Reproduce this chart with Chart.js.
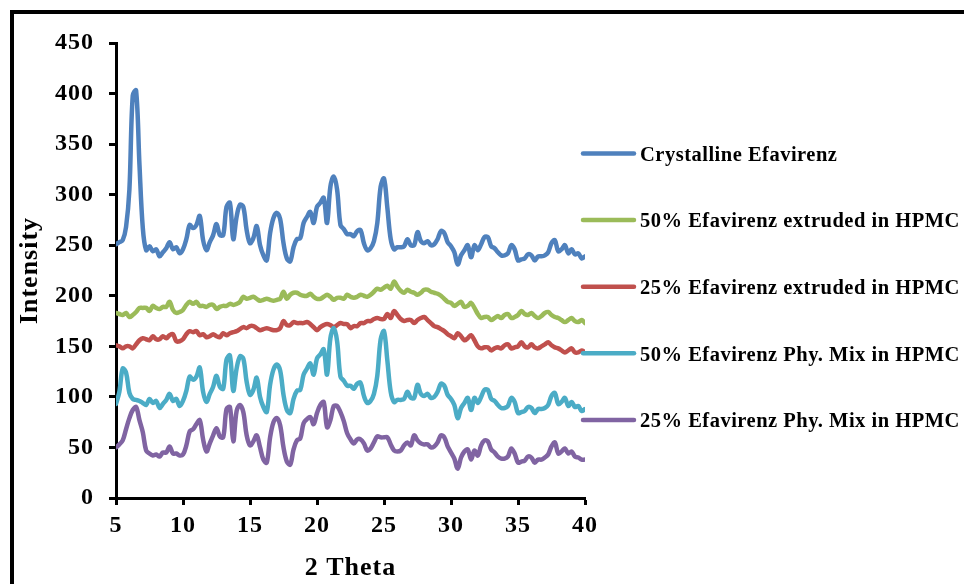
<!DOCTYPE html>
<html><head><meta charset="utf-8">
<script src="https://cdn.jsdelivr.net/npm/chart.js@4/dist/chart.umd.min.js"></script>
<style>html,body{margin:0;padding:0;background:#fff;}#wrap{position:relative;width:964px;height:584px;}</style>
</head><body><div id="wrap"><canvas id="c" width="964" height="584"></canvas></div>
<script>
const theta = [
5,5.25,5.5,5.75,6,6.25,6.5,6.75,7,7.25,7.5,7.75,8,8.25,8.5,8.75,9,9.25,9.5,9.75,
10,10.25,10.5,10.75,11,11.25,11.5,11.75,12,12.25,12.5,12.75,13,13.25,13.5,13.75,14,14.25,14.5,14.75,
15,15.25,15.5,15.75,16,16.25,16.5,16.75,17,17.25,17.5,17.75,18,18.25,18.5,18.75,19,19.25,19.5,19.75,
20,20.25,20.5,20.75,21,21.25,21.5,21.75,22,22.25,22.5,22.75,23,23.25,23.5,23.75,24,24.25,24.5,24.75,
25,25.25,25.5,25.75,26,26.25,26.5,26.75,27,27.25,27.5,27.75,28,28.25,28.5,28.75,29,29.25,29.5,29.75,
30,30.25,30.5,30.75,31,31.25,31.5,31.75,32,32.25,32.5,32.75,33,33.25,33.5,33.75,34,34.25,34.5,34.75,
35,35.25,35.5,35.75,36,36.25,36.5,36.75,37,37.25,37.5,37.75,38,38.25,38.5,38.75,39,39.25,39.5,39.75,
40];

const seriesLabels = [
  "Crystalline Efavirenz",
  "50% Efavirenz extruded in HPMC",
  "25% Efavirenz extruded in HPMC",
  "50% Efavirenz Phy. Mix in HPMC",
  "25% Efavirenz Phy. Mix in HPMC"
];

const crystalline = [
251,253,255,268,305,398,403,330,267,245,249,244,246,239,243,247,253,246,248,242,
246,256,270,267,270,279,255,245,253,260,271,260,260,288,292,256,278,290,288,265,
252,257,269,250,240,235,262,277,282,276,252,237,234,248,256,257,272,278,283,272,
288,292,297,272,308,318,305,270,266,261,261,259,264,265,252,245,247,254,272,308,
316,287,256,246,248,248,249,256,250,250,263,254,252,254,250,251,256,264,262,253,
249,243,231,240,245,250,238,250,245,251,258,258,249,247,243,240,240,242,250,246,
235,236,237,241,240,235,239,239,240,243,252,255,244,246,250,242,246,241,242,237,
239];

const extruded50 = [
183,182,181,183,179,181,184,188,188,188,185,190,188,187,189,189,194,186,183,184,
186,191,194,192,194,190,190,189,191,191,187,189,190,190,192,191,192,194,199,197,
198,199,197,195,196,197,196,195,196,197,204,197,201,203,203,201,200,200,202,199,
197,197,199,201,199,196,198,198,197,201,199,198,199,201,200,199,201,204,207,206,
208,210,207,214,209,205,203,206,204,203,201,203,206,206,204,203,202,200,197,194,
193,190,192,194,189,190,193,188,182,178,179,179,176,178,180,178,181,182,178,179,
181,185,182,181,183,180,178,180,183,184,181,179,178,176,174,176,178,175,174,176,
173];

const extruded25 = [
151,150,148,150,150,148,152,156,158,157,156,160,157,157,160,158,161,162,155,155,
157,162,165,164,165,161,162,159,160,162,160,159,163,161,163,164,165,167,169,168,
170,170,168,166,167,168,167,166,166,168,175,171,171,174,173,173,173,174,172,169,
166,169,171,172,171,169,171,173,172,172,168,170,170,173,173,175,175,177,178,177,
177,182,178,185,181,177,175,176,176,173,176,178,179,176,173,170,169,167,165,162,
160,158,163,160,156,158,161,156,150,148,149,149,146,148,149,148,151,152,148,149,
150,154,150,149,152,149,148,150,152,154,151,149,148,146,144,146,148,144,144,146,
144];

const physMix50 = [
93,105,128,124,104,98,97,96,94,92,98,94,96,89,93,97,103,96,98,91,
96,106,120,117,120,129,105,95,103,110,121,110,108,137,141,106,128,140,138,115,
102,107,119,100,90,85,112,127,132,126,102,87,84,98,106,107,122,128,133,122,
138,142,147,122,158,168,155,120,116,111,111,108,113,114,101,94,96,103,121,157,
165,136,105,95,97,97,98,105,99,99,112,103,101,103,99,100,105,113,111,102,
98,92,79,89,94,99,87,99,94,100,107,107,98,96,92,89,89,91,99,95,
84,85,86,90,89,84,88,88,89,92,101,104,93,95,99,91,95,90,91,86,
88];

const physMix25 = [
50,53,57,68,79,87,90,77,65,47,44,42,43,41,45,45,51,44,44,42,
43,52,66,68,73,77,58,46,54,62,69,61,60,88,90,56,86,92,85,62,
52,56,62,50,38,35,60,75,79,72,50,36,33,48,57,59,74,78,80,73,
84,92,95,70,77,91,91,85,76,64,58,54,58,58,54,47,49,55,61,60,
60,60,53,47,46,47,52,55,52,62,57,54,53,53,50,51,55,62,60,51,
45,39,29,40,46,48,38,47,42,52,57,56,48,45,41,39,39,41,49,44,
35,36,37,41,40,35,38,38,40,43,51,55,44,46,49,44,46,41,40,38,
38];

const xTickValues = [5,10,15,20,25,30,35,40];
const yTickValues = [0,50,100,150,200,250,300,350,400,450];
const seriesColors = ["#4F81BD","#9BBB59","#C0504D","#4BACC6","#8064A2"];
const seriesValues = [crystalline, extruded50, extruded25, physMix50, physMix25];

const FONT = "'Liberation Serif','Times New Roman',serif";

const datasets = seriesValues.map((vals, i) => ({
  label: seriesLabels[i],
  data: vals.map((v, k) => ({x: theta[k], y: v})),
  borderColor: seriesColors[i],
  backgroundColor: seriesColors[i],
  borderWidth: 4.5,
  pointRadius: 0,
  tension: 0.35,
  fill: false,
  borderCapStyle: 'round',
  borderJoinStyle: 'round',
  order: seriesValues.length - i
}));

const framePlugin = {
  id: 'frame',
  beforeDraw(chart) {
    const ctx = chart.ctx;
    ctx.fillStyle = '#000';
    ctx.fillRect(10, 10, 954, 4);
    ctx.fillRect(10, 10, 4, 574);
    ctx.letterSpacing = '1px';
  }
};

const legendPlugin = {
  id: 'customLegend',
  afterDraw(chart) {
    const ctx = chart.ctx;
    ctx.save();
    ctx.letterSpacing = '0.5px';
    chart.data.datasets.forEach((ds, i) => {
      const y = 153.5 + i * 66.6;
      ctx.strokeStyle = ds.borderColor;
      ctx.lineWidth = 4.5;
      ctx.lineCap = 'round';
      ctx.beginPath();
      ctx.moveTo(583, y);
      ctx.lineTo(634, y);
      ctx.stroke();
      ctx.fillStyle = '#000';
      ctx.font = "bold 20.5px " + FONT;
      ctx.textAlign = 'left';
      ctx.textBaseline = 'middle';
      ctx.fillText(ds.label, 640, y + 2);
    });
    ctx.restore();
  }
};

new Chart(document.getElementById('c'), {
  type: 'line',
  data: { datasets },
  plugins: [framePlugin, legendPlugin],
  options: {
    responsive: false,
    animation: false,
    layout: { padding: { left: 10, top: 43, right: 379, bottom: 0 } },
    plugins: { legend: { display: false }, tooltip: { enabled: false } },
    scales: {
      x: {
        type: 'linear', position: 'bottom', min: 5, max: 40,
        afterBuildTicks: s => { s.ticks = xTickValues.map(v => ({value: v})); },
        afterFit: s => { s.height = 86; },
        grid: { drawOnChartArea: false, drawTicks: true, tickLength: 7, tickWidth: 3, tickColor: '#000' },
        border: { display: true, color: '#000', width: 3 },
        ticks: { color: '#000', padding: 6, maxRotation: 0, autoSkip: false, font: { family: FONT, size: 24, weight: 'bold' } },
        title: { display: true, text: '2 Theta', color: '#000', padding: { top: 0, bottom: 0 }, font: { family: FONT, size: 26, weight: 'bold' } }
      },
      y: {
        type: 'linear', position: 'left', min: 0, max: 450,
        afterBuildTicks: s => { s.ticks = yTickValues.map(v => ({value: v})); },
        afterFit: s => { s.width = 106; },
        grid: { drawOnChartArea: false, drawTicks: true, tickLength: 7, tickWidth: 3, tickColor: '#000' },
        border: { display: true, color: '#000', width: 3 },
        ticks: { color: '#000', padding: 15, autoSkip: false, font: { family: FONT, size: 24, weight: 'bold' } },
        title: { display: true, text: 'Intensity', color: '#000', padding: { top: 5, bottom: 0 }, font: { family: FONT, size: 26, weight: 'bold' } }
      }
    }
  }
});
</script>
</body></html>
